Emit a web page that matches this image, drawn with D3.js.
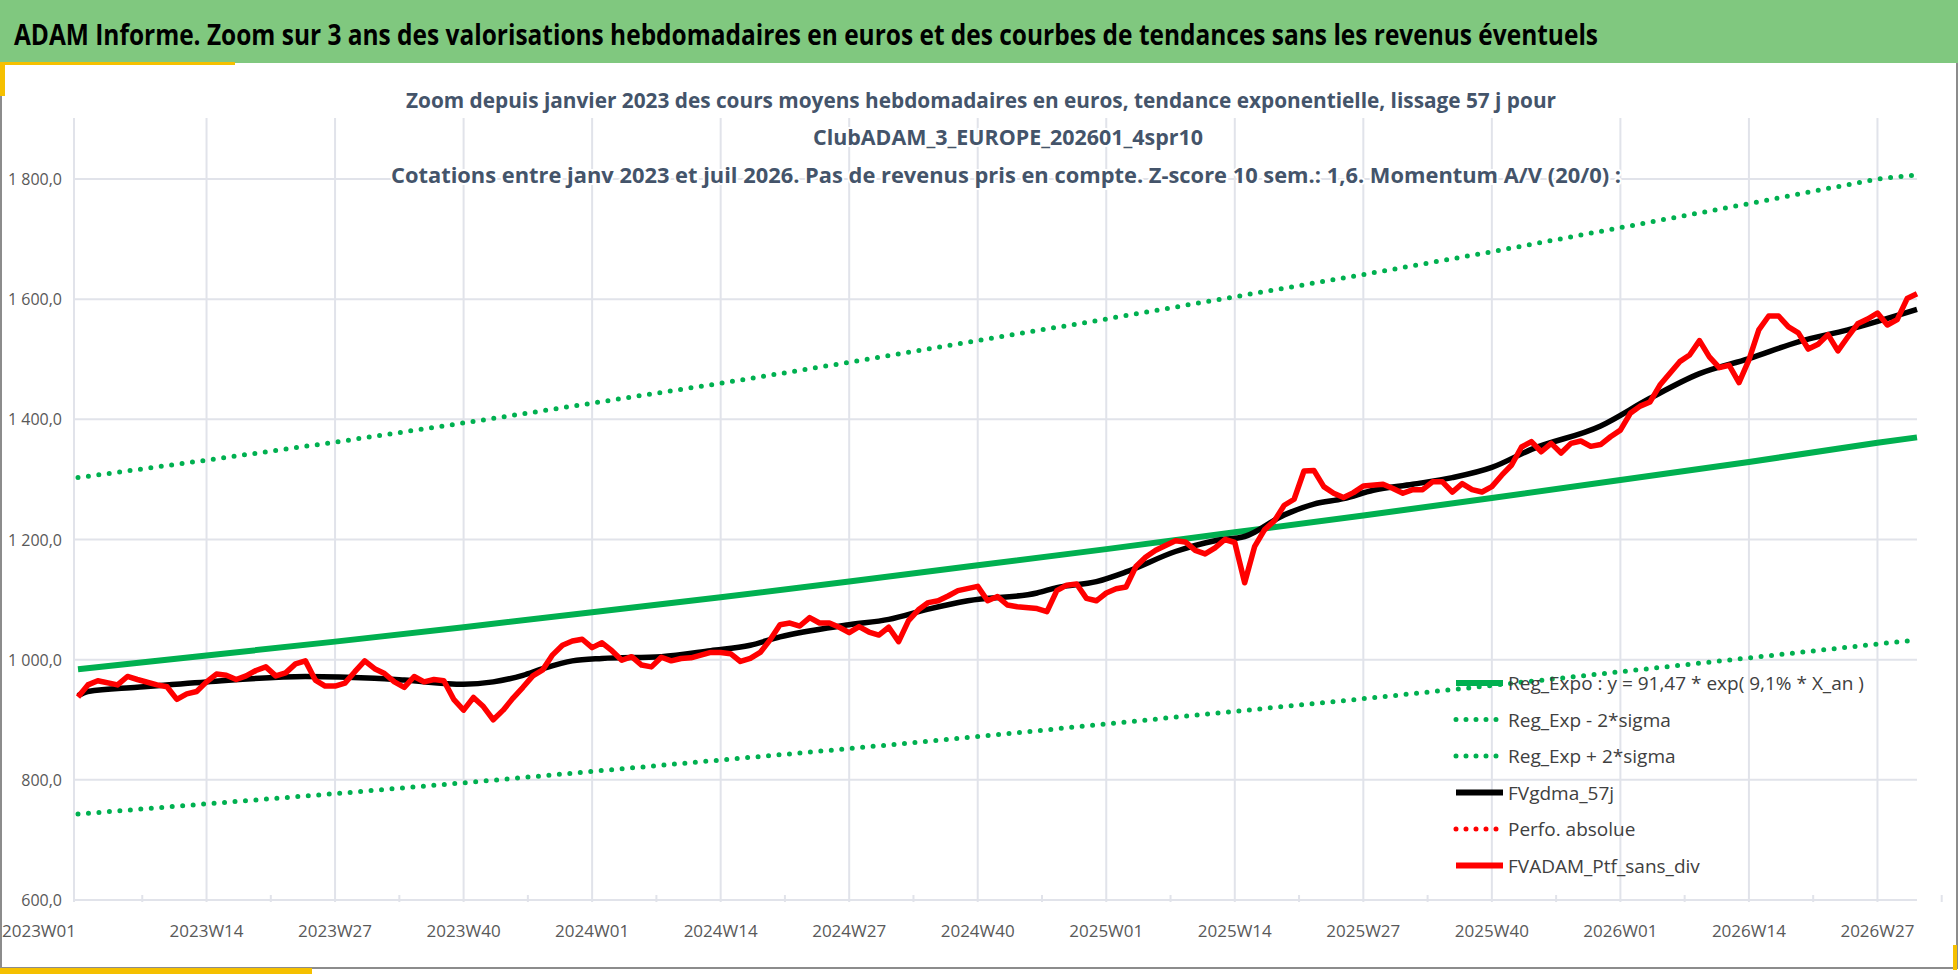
<!DOCTYPE html>
<html>
<head>
<meta charset="utf-8">
<title>ADAM Informe</title>
<script src="https://cdn.jsdelivr.net/npm/d3@7"></script>
<style type="text/css">
	body { margin: 0; background: #fff; }
	svg { display: block; }
	text { font-family: "Liberation Sans Narrow", "Open Sans", sans-serif; }
</style>
</head>
<body>
<svg id="chart" width="1958" height="979"></svg>
<script type="text/javascript">

// week labels every 13 weeks (index 0 = 2023W01)
var weekLabels = ["2023W01", "2023W14", "2023W27", "2023W40", "2024W01", "2024W14", "2024W27",
	"2024W40", "2025W01", "2025W14", "2025W27", "2025W40", "2026W01", "2026W14", "2026W27"];
var lastWeek = 186;
var yTicks = [600, 800, 1000, 1200, 1400, 1600, 1800];

// regression lines, read at every 13th week
var regWeeks = [0, 13, 26, 39, 52, 65, 78, 91, 104, 117, 130, 143, 156, 169, 182, 186];
var regExpo = [984, 1007, 1030, 1054, 1079, 1104, 1130, 1157, 1184, 1212, 1240, 1269, 1299, 1329, 1361, 1370];
var regLow  = [743, 760, 777, 795, 814, 833, 852, 872, 893, 914, 935, 957, 980, 1003, 1026, 1033];
var regHigh = [1303, 1332, 1362, 1394, 1427, 1460, 1495, 1531, 1567, 1604, 1641, 1679, 1719, 1759, 1800, 1807];

// FVgdma_57j (smoothed), week index / value
var smoothWeeks = [0, 1, 6, 13, 23, 30, 33, 39, 42, 45, 47, 50, 53, 59, 64, 68, 71, 78, 82, 86, 90, 97, 99,
	103, 106, 111, 115, 118, 122, 125, 128, 131, 135, 139, 143, 147, 154, 159, 164, 169, 174, 179, 186];
var smoothVals = [940, 947, 954, 963, 972, 969, 966, 959, 963, 974, 985, 998, 1002, 1005, 1015, 1024, 1038,
	1058, 1067, 1084, 1098, 1111, 1120, 1130, 1146, 1180, 1198, 1205, 1241, 1259, 1268, 1282, 1292, 1303,
	1320, 1350, 1389, 1435, 1476, 1501, 1529, 1549, 1583];

// FVADAM_Ptf_sans_div, week index / value
var ptfWeeks = [0,1,2,4,5,6,8,9,10,11,12,13,14,15,16,17,18,19,20,21,22,23,24,25,26,27,28,29,30,31,32,33,34,
	35,36,37,38,39,40,41,42,43,44,45,46,47,48,49,50,51,52,53,54,55,56,57,58,59,60,61,62,64,65,66,67,68,69,70,
	71,72,73,74,75,76,77,78,79,80,81,82,83,84,85,86,87,88,89,91,92,93,94,95,97,98,99,100,101,102,103,104,105,
	106,107,108,109,111,112,113,114,115,116,117,118,119,120,121,122,123,124,125,126,127,128,129,130,132,133,
	134,135,136,137,138,139,140,141,142,143,144,145,146,147,148,149,150,151,152,153,154,155,156,157,158,159,
	160,162,163,164,165,166,167,168,169,170,171,172,173,174,175,176,177,178,179,180,181,182,183,184,185,186];
var ptfVals = [938,958,965,958,972,967,958,955,934,943,947,963,976,974,967,973,982,988,973,978,993,998,966,
	956,956,961,980,998,985,977,963,954,972,963,967,965,934,916,937,922,900,916,936,954,973,983,1008,1024,
	1031,1034,1020,1028,1015,999,1005,991,988,1004,998,1002,1003,1012,1012,1010,997,1002,1012,1033,1058,
	1061,1056,1070,1061,1061,1054,1045,1055,1046,1041,1054,1030,1065,1083,1095,1098,1106,1115,1122,1098,
	1105,1091,1088,1085,1080,1115,1124,1126,1102,1098,1111,1118,1121,1155,1171,1182,1198,1196,1182,1176,
	1186,1200,1195,1128,1188,1216,1231,1257,1267,1314,1315,1288,1277,1270,1278,1289,1292,1285,1277,1283,
	1283,1296,1296,1279,1293,1283,1279,1288,1307,1324,1354,1363,1346,1360,1344,1360,1364,1355,1358,1371,
	1382,1410,1422,1429,1457,1496,1507,1531,1504,1486,1490,1461,1499,1549,1572,1572,1554,1544,1517,1525,
	1541,1514,1537,1559,1567,1577,1557,1566,1601,1609];

var legendItems = [
	{ label: "Reg_Expo : y = 91,47 * exp( 9,1% *  X_an )", color: "#00b050", dotted: false },
	{ label: "Reg_Exp - 2*sigma", color: "#00b050", dotted: true },
	{ label: "Reg_Exp + 2*sigma", color: "#00b050", dotted: true },
	{ label: "FVgdma_57j", color: "#000000", dotted: false },
	{ label: "Perfo. absolue", color: "#ff0000", dotted: true },
	{ label: "FVADAM_Ptf_sans_div", color: "#ff0000", dotted: false }
];

var svg = d3.select("#chart");

// frame and header
svg.append("rect").attr("x", 1).attr("y", 1).attr("width", 1956).attr("height", 967)
	.attr("fill", "#fff").attr("stroke", "#8c8c8c").attr("stroke-width", 2);
svg.append("rect").attr("x", 0).attr("y", 0).attr("width", 1958).attr("height", 63).attr("fill", "#80c87f");
svg.append("rect").attr("x", 0).attr("y", 62).attr("width", 235).attr("height", 3).attr("fill", "#f5c000");
svg.append("rect").attr("x", 0).attr("y", 62).attr("width", 5).attr("height", 34).attr("fill", "#f5c000");
svg.append("rect").attr("x", 0).attr("y", 968).attr("width", 312).attr("height", 6).attr("fill", "#f5c000");
svg.append("rect").attr("x", 1953).attr("y", 945).attr("width", 4).attr("height", 25).attr("fill", "#f5c000");
svg.append("text").attr("x", 14).attr("y", 45)
	.attr("font-size", 29).attr("font-weight", "bold").attr("fill", "#000")
	.attr("textLength", 1584).attr("lengthAdjust", "spacingAndGlyphs")
	.text("ADAM Informe. Zoom sur 3 ans des valorisations hebdomadaires en euros et des courbes de tendances sans les revenus éventuels");

// scales
var x = d3.scaleLinear().domain([0, lastWeek]).range([78, 1917]);
var y = d3.scaleLinear().domain([600, 1800]).range([900, 179]);
var fmt = function(v) { return d3.format(",.1f")(v).replace(",", " ").replace(".", ","); };

// grid
var grid = svg.append("g");
grid.selectAll(".hg").data(yTicks).enter().append("line")
	.attr("x1", 74).attr("x2", 1917)
	.attr("y1", function(d) { return y(d); }).attr("y2", function(d) { return y(d); })
	.attr("stroke", "#e1e3ea").attr("stroke-width", 2);
grid.selectAll(".vg").data(weekLabels).enter().append("line")
	.attr("x1", function(d, i) { return i == 0 ? 74 : x(i * 13); })
	.attr("x2", function(d, i) { return i == 0 ? 74 : x(i * 13); })
	.attr("y1", 118).attr("y2", 902)
	.attr("stroke", "#e1e3ea").attr("stroke-width", 2);
grid.selectAll(".mt").data(weekLabels).enter().append("line")
	.attr("x1", function(d, i) { return x(i * 13 + 6.5); })
	.attr("x2", function(d, i) { return x(i * 13 + 6.5); })
	.attr("y1", 895).attr("y2", 902)
	.attr("stroke", "#e1e3ea").attr("stroke-width", 2);

// subtitles on top of the grid
var subs = [
	{ t: "Zoom depuis janvier 2023 des cours moyens hebdomadaires  en euros, tendance exponentielle, lissage 57 j pour", x: 981, y: 108, w: 1150 },
	{ t: "ClubADAM_3_EUROPE_202601_4spr10", x: 1008, y: 145, w: 390 },
	{ t: "Cotations entre janv 2023 et juil 2026. Pas de revenus pris en compte. Z-score 10 sem.: 1,6. Momentum  A/V (20/0) :", x: 1006, y: 183, w: 1230 }
];
svg.selectAll(".sub").data(subs).enter().append("text")
	.attr("x", function(d) { return d.x; }).attr("y", function(d) { return d.y; })
	.attr("text-anchor", "middle").attr("font-size", 22).attr("font-weight", "bold")
	.attr("fill", "#44546a").attr("stroke", "#fff").attr("stroke-width", 4).attr("paint-order", "stroke")
	.attr("textLength", function(d) { return d.w; }).attr("lengthAdjust", "spacingAndGlyphs")
	.text(function(d) { return d.t; });

// axis labels
svg.selectAll(".yl").data(yTicks).enter().append("text")
	.attr("x", 62).attr("y", function(d) { return y(d) + 6; })
	.attr("text-anchor", "end").attr("font-size", 16).attr("fill", "#595959")
	.text(fmt);
svg.selectAll(".xl").data(weekLabels).enter().append("text")
	.attr("x", function(d, i) { return i == 0 ? 39 : x(i * 13); }).attr("y", 937)
	.attr("text-anchor", "middle").attr("font-size", 17).attr("fill", "#595959")
	.text(function(d) { return d; });

// series
var line = d3.line().x(function(d) { return x(d[0]); }).y(function(d) { return y(d[1]); });
var pairs = function(ws, vs) { return ws.map(function(w, i) { return [w, vs[i]]; }); };

var plot = svg.append("g").attr("fill", "none").attr("stroke-linejoin", "round");
plot.append("path").datum(pairs(regWeeks, regLow)).attr("d", line)
	.attr("stroke", "#00b050").attr("stroke-width", 5).attr("stroke-linecap", "round").attr("stroke-dasharray", "0 10.5");
plot.append("path").datum(pairs(regWeeks, regHigh)).attr("d", line)
	.attr("stroke", "#00b050").attr("stroke-width", 5).attr("stroke-linecap", "round").attr("stroke-dasharray", "0 10.5");
plot.append("path").datum(pairs(regWeeks, regExpo)).attr("d", line)
	.attr("stroke", "#00b050").attr("stroke-width", 6);
plot.append("path").datum(pairs(smoothWeeks, smoothVals)).attr("d", d3.line().curve(d3.curveMonotoneX)
		.x(function(d) { return x(d[0]); }).y(function(d) { return y(d[1]); }))
	.attr("stroke", "#000").attr("stroke-width", 5.5);
plot.append("path").datum(pairs(ptfWeeks, ptfVals)).attr("d", line)
	.attr("stroke", "#ff0000").attr("stroke-width", 5.5);

// legend
var leg = svg.selectAll(".leg").data(legendItems).enter().append("g")
	.attr("transform", function(d, i) { return "translate(1456," + (683 + i * 36.5) + ")"; });
leg.append("line").attr("x1", 0).attr("x2", 47).attr("y1", 0).attr("y2", 0)
	.attr("stroke", function(d) { return d.color; })
	.attr("stroke-width", function(d) { return d.dotted ? 5 : 6; })
	.attr("stroke-linecap", function(d) { return d.dotted ? "round" : "butt"; })
	.attr("stroke-dasharray", function(d) { return d.dotted ? "0 10" : null; });
leg.append("text").attr("x", 52).attr("y", 7).attr("font-size", 19).attr("fill", "#404040")
	.text(function(d) { return d.label; });
</script>
</body>
</html>
